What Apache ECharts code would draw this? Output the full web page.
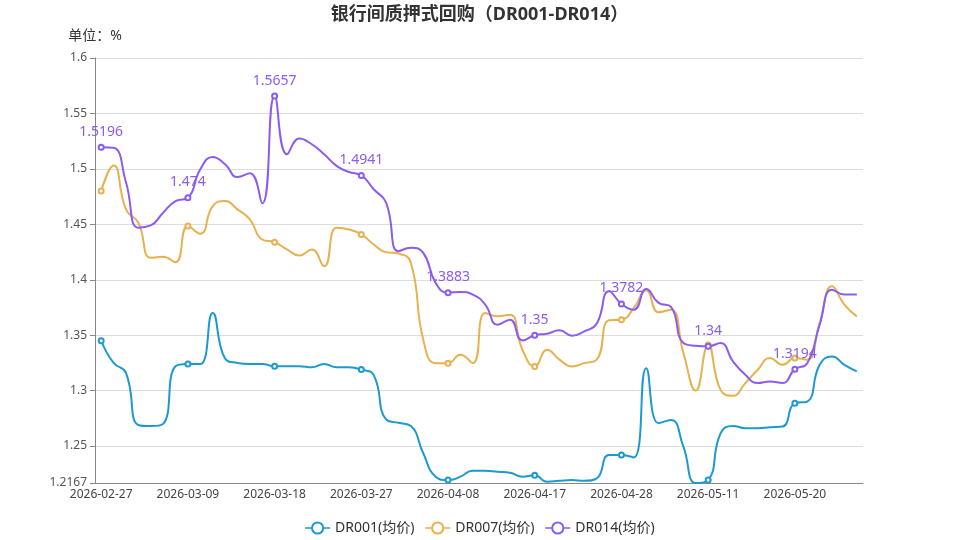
<!DOCTYPE html>
<html>
<head>
<meta charset="utf-8">
<script src="https://cdn.jsdelivr.net/npm/echarts@6/dist/echarts.min.js"></script>
<style>html,body{margin:0;padding:0;background:#fff;}#main{width:959px;height:540px;}</style>
</head>
<body>
<div id="main"></div>
<script>
const dates = ['2026-02-27','2026-02-28','2026-03-02','2026-03-03','2026-03-04','2026-03-05','2026-03-06','2026-03-09','2026-03-10','2026-03-11','2026-03-12','2026-03-13','2026-03-16','2026-03-17','2026-03-18','2026-03-19','2026-03-20','2026-03-23','2026-03-24','2026-03-25','2026-03-26','2026-03-27','2026-03-30','2026-03-31','2026-04-01','2026-04-02','2026-04-03','2026-04-07','2026-04-08','2026-04-09','2026-04-10','2026-04-13','2026-04-14','2026-04-15','2026-04-16','2026-04-17','2026-04-20','2026-04-21','2026-04-22','2026-04-23','2026-04-24','2026-04-27','2026-04-28','2026-04-29','2026-04-30','2026-05-06','2026-05-07','2026-05-08','2026-05-09','2026-05-11','2026-05-12','2026-05-13','2026-05-14','2026-05-15','2026-05-18','2026-05-19','2026-05-20','2026-05-21','2026-05-22','2026-05-25','2026-05-26','2026-05-27'];

const dr001 = [1.345,1.325,1.316,1.269,1.268,1.270,1.322,1.324,1.324,1.370,1.329,1.325,1.324,1.324,1.322,1.322,1.322,1.321,1.324,1.321,1.321,1.319,1.314,1.274,1.271,1.268,1.2435,1.2224,1.2193,1.2224,1.2278,1.2278,1.2269,1.226,1.2224,1.2236,1.2178,1.2187,1.2193,1.2187,1.2208,1.242,1.242,1.2398,1.3203,1.2706,1.2736,1.2495,1.2167,1.2193,1.2615,1.2682,1.2661,1.2661,1.267,1.2676,1.2887,1.2902,1.3233,1.3309,1.3233,1.3173];

const dr007 = [1.48,1.503,1.4635,1.4514,1.4198,1.4207,1.4158,1.4484,1.4415,1.4665,1.471,1.4635,1.4544,1.4363,1.4339,1.4273,1.4219,1.4273,1.4122,1.4469,1.4454,1.4409,1.4318,1.4249,1.4237,1.4152,1.3459,1.3248,1.3248,1.3324,1.3248,1.37,1.367,1.3685,1.3369,1.3218,1.3369,1.3279,1.3218,1.3248,1.3279,1.3634,1.364,1.3746,1.3905,1.3706,1.373,1.3339,1.3001,1.3411,1.3007,1.2953,1.3068,1.3188,1.3294,1.3233,1.3294,1.3279,1.361,1.3941,1.3776,1.367];

const dr014 = [1.5196,1.519,1.488,1.447,1.449,1.4605,1.471,1.474,1.4996,1.5108,1.5042,1.4927,1.496,1.4689,1.5657,1.5132,1.5274,1.5222,1.5132,1.5027,1.4972,1.4941,1.4816,1.4695,1.4258,1.4288,1.4243,1.3972,1.3883,1.389,1.3866,1.3776,1.3595,1.364,1.3453,1.35,1.3514,1.3544,1.3496,1.3535,1.3604,1.3896,1.3782,1.373,1.3917,1.3791,1.3755,1.3429,1.3405,1.34,1.3429,1.3263,1.3143,1.3068,1.3083,1.3068,1.3194,1.3248,1.3595,1.3911,1.3866,1.3866];

const seriesNames = ['DR001(均价)','DR007(均价)','DR014(均价)'];
const colors = ['#1c9ad0','#e8b14f','#8b5cf0'];
const LABEL_STEP = 7;

const chart = echarts.init(document.getElementById('main'), null, {renderer:'canvas'});
const FONT = "'Noto Sans','Noto Sans CJK SC',sans-serif";

function mkSeries(name, data, color, withLabel) {
  return {
    name: name,
    type: 'line',
    data: data,
    smooth: true,
    symbol: 'emptyCircle',
    symbolSize: function (v, p) { return p.dataIndex % LABEL_STEP === 0 ? 5 : 0; },
    showSymbol: true,
    showAllSymbol: true,
    lineStyle: { width: 2, color: color },
    itemStyle: { color: color, borderWidth: 1 },
    label: withLabel ? {
      show: true, position: 'top', distance: 5, color: color, fontSize: 14, fontFamily: FONT,
      formatter: function (p) { return p.dataIndex % LABEL_STEP === 0 ? String(p.value) : ''; }
    } : { show: false },
    emphasis: { disabled: true }
  };
}

chart.setOption({
  animation: false,
  textStyle: { fontFamily: FONT },
  title: {
    text: '银行间质押式回购（DR001-DR014）',
    left: 'center', top: 1,
    textStyle: { fontSize: 18, fontWeight: 'bold', color: '#333', fontFamily: FONT }
  },
  color: colors,
  legend: {
    bottom: 0, left: 'center', itemGap: 10, itemWidth: 25, itemHeight: 14,
    itemStyle: { borderWidth: 1 },
    lineStyle: { width: 1.5 },
    textStyle: { fontSize: 14, color: '#333', fontFamily: FONT },
    data: seriesNames
  },
  grid: { left: 95, right: 96, top: 58, bottom: 57, containLabel: false },
  xAxis: {
    type: 'category',
    data: dates,
    boundaryGap: true,
    axisLine: { lineStyle: { color: '#888' } },
    axisTick: { interval: LABEL_STEP - 1, lineStyle: { color: '#888' } },
    axisLabel: { interval: LABEL_STEP - 1, color: '#444', fontSize: 12, fontFamily: FONT, margin: 6 }
  },
  yAxis: {
    type: 'value',
    min: 1.2167, max: 1.6,
    splitNumber: 8,
    name: '单位：%',
    nameLocation: 'end',
    nameGap: 15,
    nameTextStyle: { color: '#333', fontSize: 14, fontFamily: FONT },
    axisLine: { show: true, lineStyle: { color: '#888' } },
    axisTick: { show: true, lineStyle: { color: '#888' } },
    axisLabel: { color: '#555', fontSize: 12, fontFamily: FONT },
    splitLine: { lineStyle: { color: '#ddd' } }
  },
  series: [
    mkSeries(seriesNames[0], dr001, colors[0], false),
    mkSeries(seriesNames[1], dr007, colors[1], false),
    mkSeries(seriesNames[2], dr014, colors[2], true)
  ]
});
</script>
</body>
</html>
